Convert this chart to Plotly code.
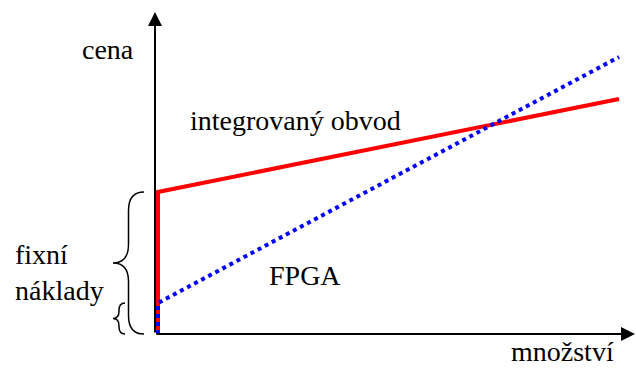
import plotly.graph_objects as go

# Data (units: arbitrary quantity / price, origin at axis crossing)
ic_x = [3, 3, 464]
ic_y = [0, 142, 235]
fpga_x = [3, 3, 464]
fpga_y = [0, 31, 277]

axis_x_end = 480
axis_y_end = 322

big_brace = dict(y0=0, y1=142, xr=-11, xt=-42)
small_brace = dict(y0=0, y1=31, xr=-30, xt=-42)

labels_text = ["cena", "integrovaný obvod", "FPGA", "fixní<br>náklady", "množství"]

FONT = "Liberation Serif, Times New Roman, serif"

fig = go.Figure()

fig.add_trace(go.Scatter(x=ic_x, y=ic_y, mode="lines",
                         line=dict(color="#ff0000", width=4), hoverinfo="skip"))
fig.add_trace(go.Scatter(x=fpga_x, y=fpga_y, mode="lines",
                         line=dict(color="#0000ff", width=4, dash="dot"), hoverinfo="skip"))


def brace_path(y0, y1, xr, xt):
    xm = (xr + xt) / 2
    ym = (y0 + y1) / 2
    a = min((y1 - y0) / 4, abs(xr - xt) * 0.6)
    return (f"M {xr},{y1} Q {xm},{y1} {xm},{y1 - a} "
            f"L {xm},{ym + a} Q {xm},{ym} {xt},{ym} "
            f"Q {xm},{ym} {xm},{ym - a} "
            f"L {xm},{y0 + a} Q {xm},{y0} {xr},{y0}")


shapes = []
for b in (big_brace, small_brace):
    shapes.append(dict(type="path", xref="x", yref="y",
                       path=brace_path(b["y0"], b["y1"], b["xr"], b["xt"]),
                       line=dict(color="black", width=1.5)))

annotations = [
    # axes with arrowheads
    dict(x=axis_x_end, y=0, ax=0, ay=0, xref="x", yref="y", axref="x", ayref="y",
         text="", showarrow=True, arrowhead=2, arrowsize=1.4, arrowwidth=2, arrowcolor="black"),
    dict(x=0, y=axis_y_end, ax=0, ay=0, xref="x", yref="y", axref="x", ayref="y",
         text="", showarrow=True, arrowhead=2, arrowsize=1.4, arrowwidth=2, arrowcolor="black"),
]

label_pos = [(-47, 285, "center", 28), (140, 214, "center", 28), (150, 59, "center", 28),
             (-141, 62, "left", 28), (407, -17, "center", 28)]
for t, (x, y, anc, fs) in zip(labels_text, label_pos):
    annotations.append(dict(x=x, y=y, xref="x", yref="y", text=t, showarrow=False,
                            xanchor=anc, yanchor="middle", align="left", borderpad=0,
                            font=dict(family=FONT, size=fs, color="black")))

fig.update_layout(
    width=636, height=368, autosize=False,
    margin=dict(l=0, r=0, t=0, b=0),
    paper_bgcolor="white", plot_bgcolor="white",
    showlegend=False,
    xaxis=dict(range=[-155, 481], visible=False, fixedrange=True),
    yaxis=dict(range=[-34, 334], visible=False, fixedrange=True),
    shapes=shapes,
    annotations=annotations,
)

fig.write_html("out.html", config={"staticPlot": True},
               post_script="document.body.style.margin='0';document.body.style.overflow='hidden';")
